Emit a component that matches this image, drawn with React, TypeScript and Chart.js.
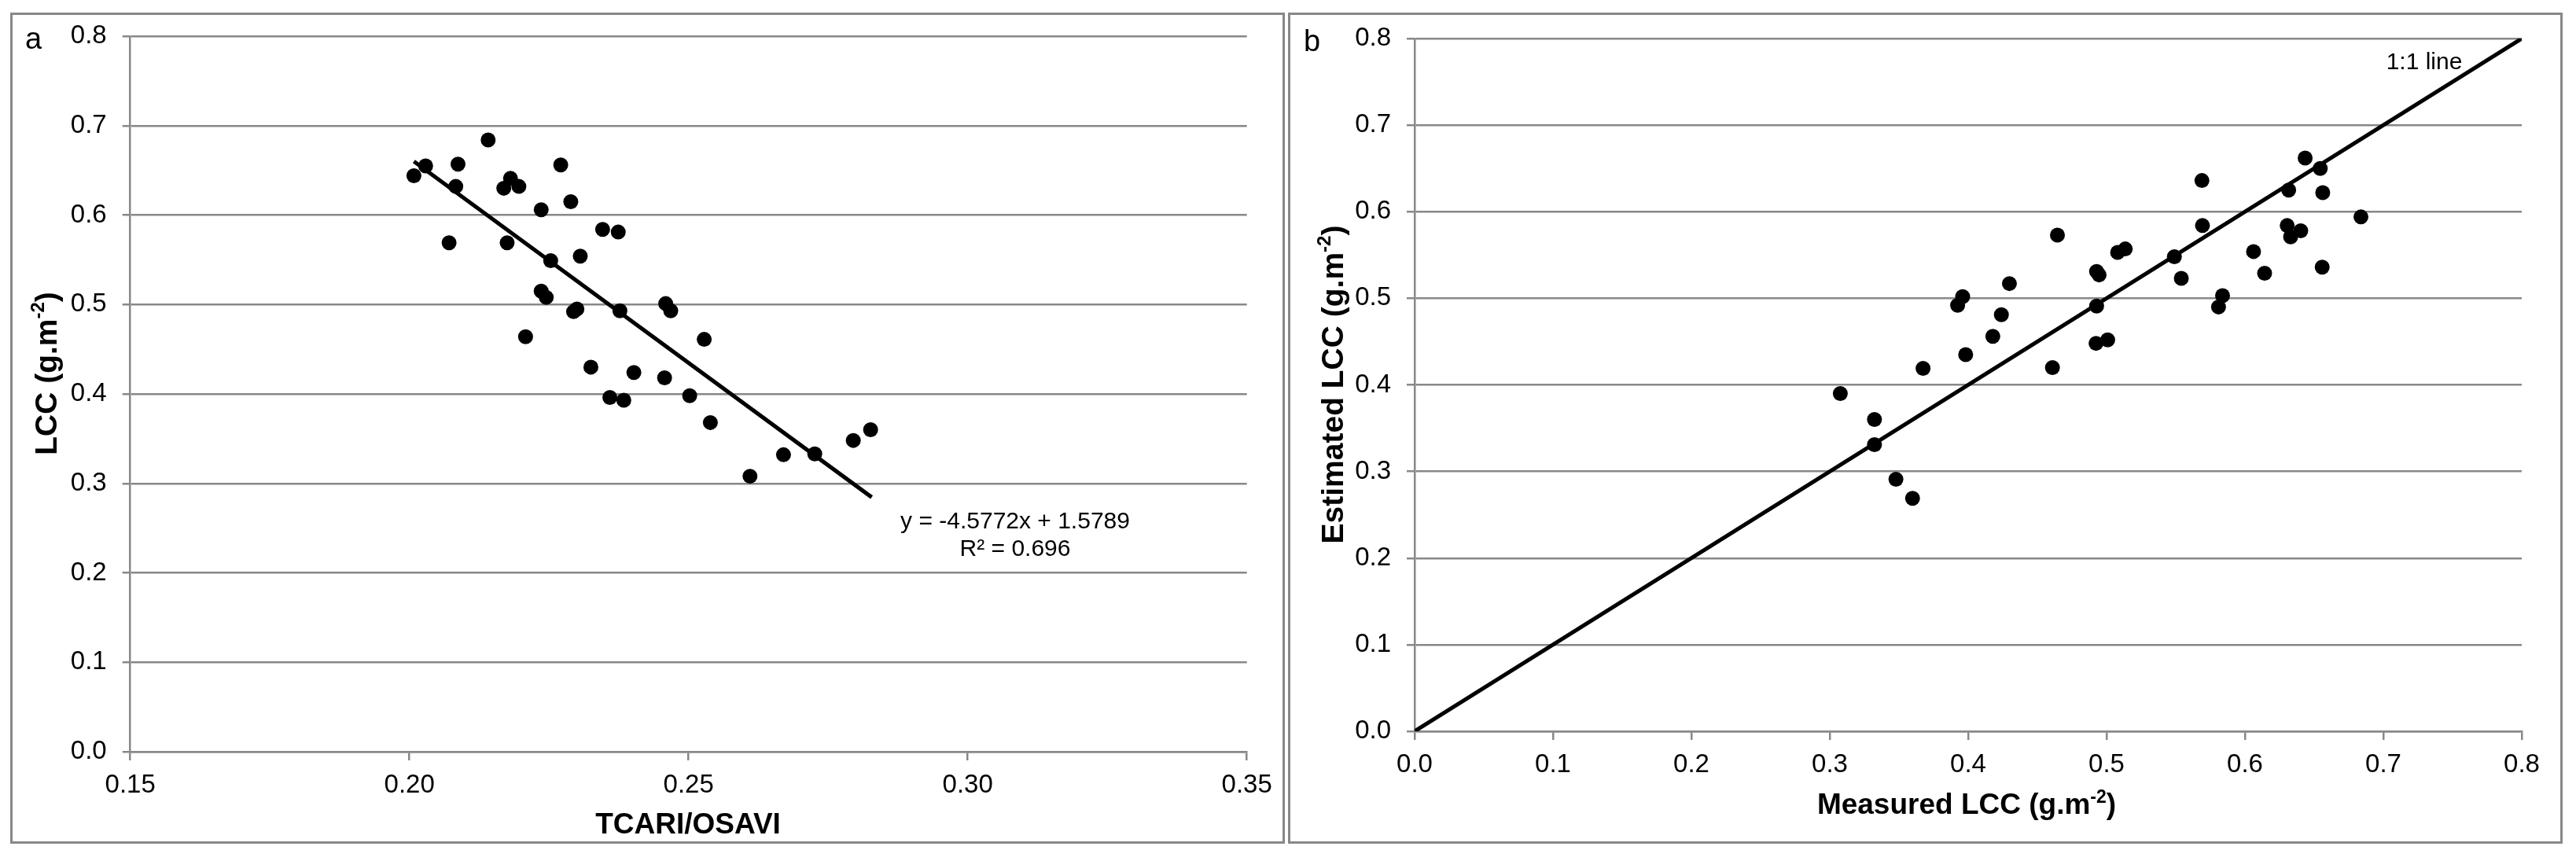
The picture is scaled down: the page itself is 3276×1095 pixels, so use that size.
import React, { useEffect, useRef } from "react";
import { Chart, registerables } from "chart.js";
Chart.register(...registerables);

// ---------- Data ----------
const tcariOsavi = [
  0.2008, 0.2029, 0.2087, 0.2083, 0.2071, 0.2141, 0.2169, 0.2181, 0.2196, 0.2175,
  0.2208, 0.2236, 0.2236, 0.2245, 0.2253, 0.2271, 0.2289, 0.2294, 0.2300, 0.2306,
  0.2325, 0.2346, 0.2359, 0.2374, 0.2377, 0.2384, 0.2402, 0.2459, 0.2468, 0.2457,
  0.2502, 0.2528, 0.2539, 0.2610, 0.2670, 0.2726, 0.2795, 0.2826,
];
const lccA = [
  0.644, 0.655, 0.657, 0.632, 0.569, 0.684, 0.630, 0.641, 0.632, 0.569,
  0.464, 0.606, 0.515, 0.508, 0.549, 0.656, 0.615, 0.492, 0.495, 0.554,
  0.430, 0.584, 0.396, 0.581, 0.493, 0.393, 0.424, 0.501, 0.493, 0.418,
  0.398, 0.461, 0.368, 0.308, 0.332, 0.333, 0.348, 0.360,
];
const trendX = [0.2008, 0.2828];
const trendY = [0.660, 0.2845];

const measuredLCC = [
  0.3076, 0.3323, 0.3323, 0.3478, 0.3598, 0.3674, 0.3924, 0.3960, 0.3982, 0.4178,
  0.4240, 0.4298, 0.4609, 0.4645, 0.4924, 0.5008, 0.4928, 0.4928, 0.4946, 0.5080,
  0.5135, 0.5490, 0.5540, 0.5689, 0.5693, 0.5809, 0.5838, 0.6062, 0.6142, 0.6305,
  0.6316, 0.6330, 0.6403, 0.6435, 0.6544, 0.6562, 0.6558, 0.6838,
];
const estimatedLCC = [
  0.390, 0.360, 0.331, 0.291, 0.269, 0.419, 0.492, 0.502, 0.435, 0.456,
  0.481, 0.517, 0.420, 0.573, 0.448, 0.452, 0.491, 0.531, 0.527, 0.553,
  0.557, 0.548, 0.523, 0.636, 0.584, 0.490, 0.503, 0.554, 0.529, 0.584,
  0.625, 0.571, 0.578, 0.662, 0.650, 0.622, 0.536, 0.594,
];
const oneToOneX = [0, 0.8];
const oneToOneY = [0, 0.8];

const xTicksA = [0.15, 0.2, 0.25, 0.3, 0.35];
const yTicks = [0, 0.1, 0.2, 0.3, 0.4, 0.5, 0.6, 0.7, 0.8];
const xTicksB = [0, 0.1, 0.2, 0.3, 0.4, 0.5, 0.6, 0.7, 0.8];

// ---------- Styling ----------
const FONT = '"Liberation Sans", Arial, Helvetica, sans-serif';
const GRID = "#888888";

type Part = { t: string; sup?: boolean };

function drawRich(
  ctx: CanvasRenderingContext2D,
  parts: Part[],
  cx: number,
  cy: number,
  size: number,
  bold: boolean,
  angle: number
) {
  ctx.save();
  ctx.translate(cx, cy);
  ctx.rotate(angle);
  const fontFor = (sup?: boolean) =>
    `${bold ? "bold " : ""}${sup ? Math.round(size * 0.62) : size}px ${FONT}`;
  let total = 0;
  const widths = parts.map((p) => {
    ctx.font = fontFor(p.sup);
    const w = ctx.measureText(p.t).width;
    total += w;
    return w;
  });
  let x = -total / 2;
  ctx.textBaseline = "alphabetic";
  ctx.textAlign = "left";
  ctx.fillStyle = "#000";
  parts.forEach((p, i) => {
    ctx.font = fontFor(p.sup);
    ctx.fillText(p.t, x, p.sup ? size * 0.36 - size * 0.4 : size * 0.36);
    x += widths[i];
  });
  ctx.restore();
}

function drawText(
  ctx: CanvasRenderingContext2D,
  text: string,
  x: number,
  y: number,
  size: number,
  align: CanvasTextAlign,
  bold = false
) {
  ctx.save();
  ctx.font = `${bold ? "bold " : ""}${size}px ${FONT}`;
  ctx.fillStyle = "#000";
  ctx.textAlign = align;
  ctx.textBaseline = "alphabetic";
  ctx.fillText(text, x, y);
  ctx.restore();
}

type PanelCfg = {
  width: number;
  height: number;
  padding: { left: number; top: number; right: number; bottom: number };
  yAxisWidth: number;
  xAxisHeight: number;
  xMin: number;
  xMax: number;
  xTicks: number[];
  xDigits: number;
  datasets: any[];
  annotate: (ctx: CanvasRenderingContext2D, chart: any) => void;
};

function Panel({ cfg, left }: { cfg: PanelCfg; left: number }) {
  const ref = useRef<HTMLCanvasElement | null>(null);
  useEffect(() => {
    if (!ref.current) return;
    const textPlugin = {
      id: "annot",
      afterDraw(chart: any) {
        cfg.annotate(chart.ctx, chart);
      },
    };
    const chart = new Chart(ref.current, {
      type: "scatter",
      data: { datasets: cfg.datasets },
      options: {
        animation: false,
        responsive: false,
        devicePixelRatio: 1,
        layout: { padding: cfg.padding },
        plugins: { legend: { display: false }, tooltip: { enabled: false } },
        scales: {
          x: {
            type: "linear",
            min: cfg.xMin,
            max: cfg.xMax,
            afterBuildTicks: (s: any) => {
              s.ticks = cfg.xTicks.map((v) => ({ value: v }));
            },
            afterFit: (s: any) => {
              s.height = cfg.xAxisHeight;
            },
            ticks: {
              autoSkip: false,
              maxRotation: 0,
              minRotation: 0,
              padding: 12,
              color: "#000",
              font: { family: FONT, size: 33 },
              callback: (v: any) => Number(v).toFixed(cfg.xDigits),
            },
            grid: {
              drawOnChartArea: false,
              drawTicks: true,
              tickLength: 11,
              color: GRID,
              lineWidth: 2.5,
            },
            border: { display: true, color: GRID, width: 2.5 },
          },
          y: {
            type: "linear",
            min: 0,
            max: 0.8,
            afterBuildTicks: (s: any) => {
              s.ticks = yTicks.map((v) => ({ value: v }));
            },
            afterFit: (s: any) => {
              s.width = cfg.yAxisWidth;
            },
            ticks: {
              autoSkip: false,
              padding: 20,
              color: "#000",
              font: { family: FONT, size: 33 },
              callback: (v: any) => Number(v).toFixed(1),
            },
            grid: {
              drawOnChartArea: true,
              drawTicks: true,
              tickLength: 10,
              color: GRID,
              lineWidth: 2.5,
            },
            border: { display: true, color: GRID, width: 2.5 },
          },
        },
      },
      plugins: [textPlugin],
    } as any);
    return () => chart.destroy();
  }, [cfg]);
  return (
    <canvas
      ref={ref}
      width={cfg.width}
      height={cfg.height}
      style={{
        position: "absolute",
        left,
        top: 0,
        width: cfg.width,
        height: cfg.height,
      }}
    />
  );
}

const pointsStyle = {
  pointRadius: 9.5,
  pointHoverRadius: 9.5,
  pointBackgroundColor: "#000",
  pointBorderWidth: 0,
  showLine: false,
};
const lineStyle = {
  showLine: true,
  pointRadius: 0,
  borderColor: "#000",
  borderWidth: 5,
  fill: false,
};

const cfgA: PanelCfg = {
  width: 1636,
  height: 1095,
  padding: { left: 0, top: 46, right: 50.3, bottom: 0 },
  yAxisWidth: 165.7,
  xAxisHeight: 139,
  xMin: 0.15,
  xMax: 0.35,
  xTicks: xTicksA,
  xDigits: 2,
  datasets: [
    {
      label: "trend",
      data: trendX.map((x, i) => ({ x, y: trendY[i] })),
      ...lineStyle,
    },
    {
      label: "LCC",
      data: tcariOsavi.map((x, i) => ({ x, y: lccA[i] })),
      ...pointsStyle,
    },
  ],
  annotate: (ctx) => {
    drawText(ctx, "a", 32, 62, 38, "left");
    drawText(ctx, "y = -4.5772x + 1.5789", 1291, 672, 30, "center");
    drawText(ctx, "R² = 0.696", 1291, 707, 30, "center");
    drawRich(ctx, [{ t: "TCARI/OSAVI" }], 875, 1047, 37, true, 0);
    drawRich(
      ctx,
      [{ t: "LCC (g.m" }, { t: "-2", sup: true }, { t: ")" }],
      58,
      475,
      39,
      true,
      -Math.PI / 2
    );
  },
};

const cfgB: PanelCfg = {
  width: 1640,
  height: 1095,
  padding: { left: 0, top: 49, right: 69, bottom: 0 },
  yAxisWidth: 163,
  xAxisHeight: 165,
  xMin: 0,
  xMax: 0.8,
  xTicks: xTicksB,
  xDigits: 1,
  datasets: [
    {
      label: "1:1",
      data: oneToOneX.map((x, i) => ({ x, y: oneToOneY[i] })),
      ...lineStyle,
    },
    {
      label: "Estimated",
      data: measuredLCC.map((x, i) => ({ x, y: estimatedLCC[i] })),
      ...pointsStyle,
    },
  ],
  annotate: (ctx) => {
    drawText(ctx, "b", 22, 65, 38, "left");
    drawText(ctx, "1:1 line", 1447, 88, 30, "center");
    drawRich(
      ctx,
      [{ t: "Measured LCC (g.m" }, { t: "-2", sup: true }, { t: ")" }],
      865,
      1022,
      37,
      true,
      0
    );
    drawRich(
      ctx,
      [{ t: "Estimated LCC (g.m" }, { t: "-2", sup: true }, { t: ")" }],
      58,
      489,
      39,
      true,
      -Math.PI / 2
    );
  },
};

export default function App() {
  return (
    <div
      style={{
        position: "absolute",
        left: 0,
        top: 0,
        width: 3276,
        height: 1095,
        background: "#fff",
        overflow: "hidden",
      }}
    >
      <div
        style={{
          position: "absolute",
          left: 13,
          top: 16,
          width: 1621,
          height: 1057,
          border: `3px solid ${GRID}`,
          boxSizing: "border-box",
        }}
      />
      <div
        style={{
          position: "absolute",
          left: 1638,
          top: 16,
          width: 1621,
          height: 1057,
          border: `3px solid ${GRID}`,
          boxSizing: "border-box",
        }}
      />
      <Panel cfg={cfgA} left={0} />
      <Panel cfg={cfgB} left={1636} />
    </div>
  );
}
